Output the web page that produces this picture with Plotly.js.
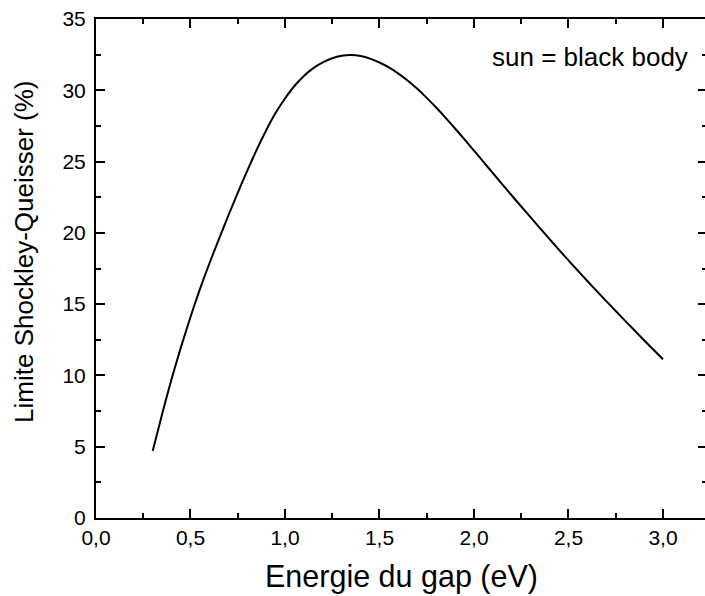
<!DOCTYPE html>
<html>
<head>
<meta charset="utf-8">
<script src="https://cdn.plot.ly/plotly-3.0.1.min.js"></script>
<style>
html, body { margin: 0; padding: 0; overflow: hidden; background: #fff; }
#chart { width: 712px; height: 596px; }
</style>
</head>
<body>
<div id="chart"></div>
<script>
// Band-gap energy (eV)
const gapEnergy = [0.30, 0.35, 0.40, 0.45, 0.50, 0.55, 0.60, 0.65, 0.70, 0.75,
  0.80, 0.85, 0.90, 0.95, 1.00, 1.05, 1.10, 1.15, 1.20, 1.25,
  1.30, 1.35, 1.40, 1.45, 1.50, 1.55, 1.60, 1.65, 1.70, 1.75,
  1.80, 1.85, 1.90, 1.95, 2.00, 2.05, 2.10, 2.15, 2.20, 2.25,
  2.30, 2.35, 2.40, 2.45, 2.50, 2.55, 2.60, 2.65, 2.70, 2.75,
  2.80, 2.85, 2.90, 2.95, 3.00];
// Shockley-Queisser limit (%)
const sqLimit = [4.70, 7.30, 9.75, 12.00, 14.10, 16.05, 17.85, 19.55, 21.20, 22.80,
  24.35, 25.82, 27.18, 28.40, 29.42, 30.30, 31.00, 31.55, 31.95, 32.25,
  32.42, 32.47, 32.40, 32.22, 31.95, 31.60, 31.17, 30.67, 30.10, 29.47,
  28.79, 28.07, 27.32, 26.55, 25.77, 24.98, 24.19, 23.40, 22.62, 21.85,
  21.09, 20.32, 19.56, 18.81, 18.07, 17.34, 16.62, 15.91, 15.21, 14.52,
  13.83, 13.15, 12.47, 11.80, 11.13];
const legendLabel = "sun = black body";
const xTitle = "Energie du gap (eV)";
const yTitle = "Limite Shockley-Queisser (%)";

const FONT = "Liberation Sans, Arial, Helvetica, sans-serif";

const trace = {
  x: gapEnergy,
  y: sqLimit,
  type: "scatter",
  mode: "lines",
  line: { color: "#000", width: 2, shape: "spline", smoothing: 0.8 },
  hoverinfo: "skip",
  showlegend: false
};

const axisCommon = {
  showline: true, linecolor: "#000", linewidth: 2,
  mirror: "ticks", ticks: "inside", ticklen: 9, tickwidth: 2, tickcolor: "#000",
  showgrid: false, zeroline: false,
  tickfont: { family: FONT, size: 21, color: "#000" }
};

const layout = {
  width: 712, height: 596,
  margin: { l: 96, r: 5, t: 19, b: 78 },
  paper_bgcolor: "#fff", plot_bgcolor: "#fff",
  separators: ", ",
  font: { family: FONT, color: "#000" },
  xaxis: Object.assign({}, axisCommon, {
    range: [0, 3.233], dtick: 0.5, tick0: 0, tickformat: ".1f",
    minor: { dtick: 0.25, ticks: "inside", ticklen: 5, tickwidth: 2, tickcolor: "#000" },
    title: { text: xTitle, font: { family: FONT, size: 30.5, color: "#000" }, standoff: 17 }
  }),
  yaxis: Object.assign({}, axisCommon, {
    range: [0, 35], dtick: 5, tick0: 0, ticklabelstandoff: 4,
    minor: { dtick: 2.5, ticks: "inside", ticklen: 5, tickwidth: 2, tickcolor: "#000" }
  }),
  annotations: [
    {
      text: legendLabel, xref: "x", yref: "y", x: 3.143, y: 32.3,
      xanchor: "right", yanchor: "middle", showarrow: false,
      font: { family: FONT, size: 26, color: "#000" }
    },
    {
      text: yTitle, xref: "paper", yref: "paper", x: -0.118, y: 0.533,
      xanchor: "center", yanchor: "middle", textangle: -90, showarrow: false,
      font: { family: FONT, size: 26, color: "#000" }
    }
  ]
};

Plotly.newPlot("chart", [trace], layout, { displayModeBar: false, staticPlot: true });
</script>
</body>
</html>
